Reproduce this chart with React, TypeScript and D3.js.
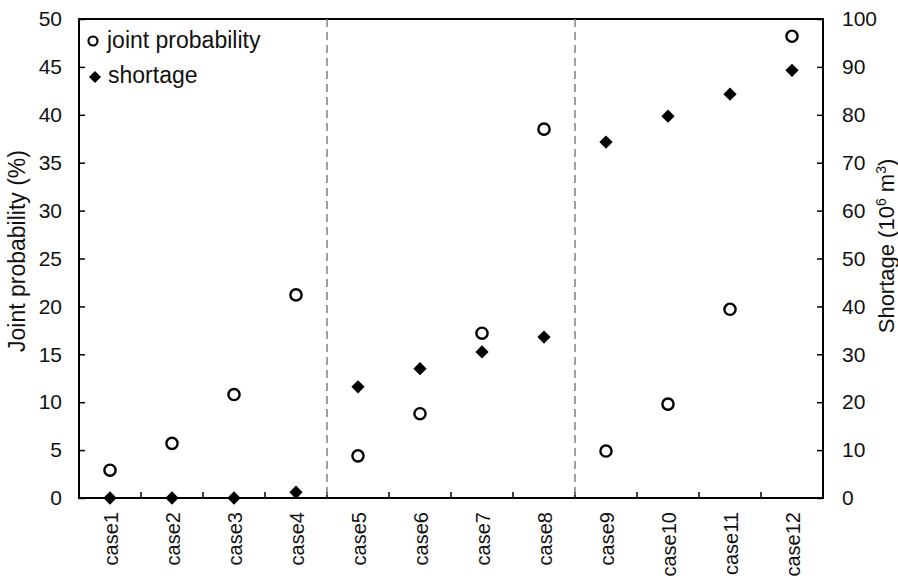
import React, { useEffect, useRef } from "react";
import * as d3 from "d3";

const cases = ["case1", "case2", "case3", "case4", "case5", "case6", "case7", "case8", "case9", "case10", "case11", "case12"];
const jointProb = [2.9, 5.7, 10.8, 21.2, 4.4, 8.8, 17.2, 38.5, 4.9, 9.8, 19.7, 48.2];
const shortage = [0, 0, 0, 1.2, 23.2, 27.0, 30.5, 33.6, 74.3, 79.7, 84.3, 89.3];
const leftTicks = [0, 5, 10, 15, 20, 25, 30, 35, 40, 45, 50];
const rightTicks = [0, 10, 20, 30, 40, 50, 60, 70, 80, 90, 100];
const groupBreaks = [4, 8]; // dashed separators after these many cases

const App = () => {
  const svgRef = useRef<SVGSVGElement>(null);

  useEffect(() => {
    const svg = d3.select(svgRef.current);
    svg.selectAll("*").remove();

    const left = 79, right = 823, top = 19, bottom = 498;
    const font = "'Liberation Sans', Arial, sans-serif";

    const x = d3.scaleBand().domain(cases).range([left, right]);
    const yL = d3.scaleLinear().domain([0, 50]).range([bottom, top]);
    const yR = d3.scaleLinear().domain([0, 100]).range([bottom, top]);

    // frame
    svg.append("rect")
      .attr("x", left).attr("y", top)
      .attr("width", right - left).attr("height", bottom - top)
      .attr("fill", "none").attr("stroke", "#000").attr("stroke-width", 2);

    // left axis (ticks inward)
    const gl = svg.append("g").attr("transform", `translate(${left},0)`)
      .call(d3.axisLeft(yL).tickValues(leftTicks).tickSizeInner(-6).tickSizeOuter(0).tickPadding(17));
    gl.select(".domain").remove();
    gl.selectAll("line").attr("stroke-width", 1.5);
    gl.selectAll("text").style("font-size", "21px").style("font-family", font).attr("fill", "#111");

    // right axis
    const gr = svg.append("g").attr("transform", `translate(${right},0)`)
      .call(d3.axisRight(yR).tickValues(rightTicks).tickSizeInner(-6).tickSizeOuter(0).tickPadding(19));
    gr.select(".domain").remove();
    gr.selectAll("line").attr("stroke-width", 1.5);
    gr.selectAll("text").style("font-size", "21px").style("font-family", font).attr("fill", "#111");

    // bottom category boundary ticks
    svg.append("g").selectAll("line")
      .data(cases.slice(1))
      .enter().append("line")
      .attr("x1", (d) => x(d)!).attr("x2", (d) => x(d)!)
      .attr("y1", bottom).attr("y2", bottom - 6)
      .attr("stroke", "#000").attr("stroke-width", 1.5);

    // category labels
    svg.append("g").selectAll("text")
      .data(cases)
      .enter().append("text")
      .attr("transform", (d) => `translate(${x(d)! + x.bandwidth() / 2 + 8},${bottom + 14}) rotate(-90)`)
      .attr("text-anchor", "end")
      .attr("fill", "#111")
      .style("font-size", "20px").style("font-family", font)
      .text((d) => d);

    // dashed separators
    svg.append("g").selectAll("line")
      .data(groupBreaks)
      .enter().append("line")
      .attr("x1", (d) => x(cases[d])!).attr("x2", (d) => x(cases[d])!)
      .attr("y1", top).attr("y2", bottom)
      .attr("stroke", "#808080").attr("stroke-width", 1.5)
      .attr("stroke-dasharray", "8,5");

    // shortage diamonds
    const diamond = d3.symbol().type(d3.symbolDiamond2).size(112);
    svg.append("g").selectAll("path")
      .data(shortage)
      .enter().append("path")
      .attr("d", diamond)
      .attr("transform", (d, i) => `translate(${x(cases[i])! + x.bandwidth() / 2},${yR(d)})`)
      .attr("fill", "#000");

    // joint probability circles
    svg.append("g").selectAll("circle")
      .data(jointProb)
      .enter().append("circle")
      .attr("cx", (d, i) => x(cases[i])! + x.bandwidth() / 2)
      .attr("cy", (d) => yL(d))
      .attr("r", 5.6)
      .attr("fill", "#fff").attr("stroke", "#000").attr("stroke-width", 2.4);

    // legend
    svg.append("circle").attr("cx", 93).attr("cy", 41).attr("r", 4.5)
      .attr("fill", "#fff").attr("stroke", "#000").attr("stroke-width", 2.2);
    svg.append("text").attr("x", 107).attr("y", 48).attr("fill", "#111")
      .style("font-size", "23px").style("font-family", font).text("joint probability");
    svg.append("path").attr("d", d3.symbol().type(d3.symbolDiamond2).size(92))
      .attr("transform", "translate(95,77)").attr("fill", "#000");
    svg.append("text").attr("x", 108).attr("y", 83).attr("fill", "#111")
      .style("font-size", "23px").style("font-family", font).text("shortage");

    // axis titles
    svg.append("text")
      .attr("transform", `translate(25,251) rotate(-90)`)
      .attr("text-anchor", "middle").attr("fill", "#111")
      .style("font-size", "23px").style("font-family", font)
      .text("Joint probability (%)");

    const rt = svg.append("text")
      .attr("transform", `translate(894,246) rotate(-90)`)
      .attr("text-anchor", "middle").attr("fill", "#111")
      .style("font-size", "22px").style("font-family", font);
    rt.append("tspan").text("Shortage (10");
    rt.append("tspan").attr("dy", -8).style("font-size", "14px").text("6");
    rt.append("tspan").attr("dy", 8).text(" m");
    rt.append("tspan").attr("dy", -8).style("font-size", "14px").text("3");
    rt.append("tspan").attr("dy", 8).text(")");
  }, []);

  return (
    <svg ref={svgRef} width={898} height={578}
      style={{ position: "absolute", left: 0, top: 0, background: "#fff" }} />
  );
};

export default App;
